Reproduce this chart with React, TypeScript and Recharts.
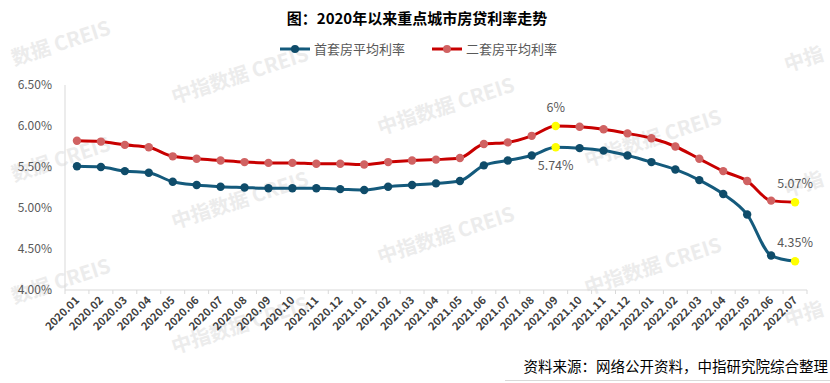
import React from 'react';
import { LineChart, Line, XAxis, YAxis, LabelList } from 'recharts';

const MONTHS = [
  '2020.01', '2020.02', '2020.03', '2020.04', '2020.05', '2020.06', '2020.07', '2020.08',
  '2020.09', '2020.10', '2020.11', '2020.12', '2021.01', '2021.02', '2021.03', '2021.04',
  '2021.05', '2021.06', '2021.07', '2021.08', '2021.09', '2021.10', '2021.11', '2021.12',
  '2022.01', '2022.02', '2022.03', '2022.04', '2022.05', '2022.06', '2022.07',
];
// 首套房平均利率
const FIRST = [
  5.51, 5.50, 5.45, 5.43, 5.32, 5.28, 5.26, 5.25, 5.24, 5.24, 5.24, 5.23, 5.22, 5.26, 5.28, 5.30,
  5.33, 5.52, 5.58, 5.64, 5.74, 5.73, 5.70, 5.64, 5.56, 5.47, 5.34, 5.17, 4.92, 4.42, 4.35,
];
// 二套房平均利率
const SECOND = [
  5.82, 5.81, 5.77, 5.74, 5.63, 5.60, 5.58, 5.56, 5.55, 5.55, 5.54, 5.54, 5.53, 5.56, 5.58, 5.59,
  5.61, 5.78, 5.80, 5.88, 6.00, 5.99, 5.96, 5.91, 5.85, 5.75, 5.60, 5.45, 5.33, 5.09, 5.07,
];
const Y_TICKS = [4.0, 4.5, 5.0, 5.5, 6.0, 6.5];
// indices that get a yellow marker and a value label
const FIRST_MARKED = [20, 30];
const SECOND_MARKED = [20, 30];

const data = MONTHS.map((m, i) => ({ month: m, first: FIRST[i], second: SECOND[i] }));

const W = 830;
const H = 383;
const PLOT_LEFT = 65;
const PLOT_RIGHT = 23;
const STEP = (W - PLOT_LEFT - PLOT_RIGHT) / MONTHS.length;

const BLUE = '#145a7c';
const BLUE_DOT = '#0f4c6a';
const RED = '#c80000';
const RED_DOT = '#d06262';
const GREY_TEXT = '#595959';
const AXIS = '#d9d9d9';
const WM = '#ececec';
const FONT = '"Noto Sans CJK SC", "Noto Sans", sans-serif';

const fmtLabel = (v: number) => `${Number(v.toFixed(2))}%`;

const XTick = (props: any) => {
  const { x, y, payload, index } = props;
  const half = STEP / 2;
  return (
    <g>
      <line x1={x - half} x2={x - half} y1={y - 4} y2={y} stroke={AXIS} />
      {index === MONTHS.length - 1 && <line x1={x + half} x2={x + half} y1={y - 4} y2={y} stroke={AXIS} />}
      <text
        transform={`translate(${x + 3},${y + 7}) rotate(-45)`}
        textAnchor="end"
        fontSize={11}
        fontWeight={700}
        fill="#404040"
        fontFamily={FONT}
      >
        {payload.value}
      </text>
    </g>
  );
};

const makeDot = (color: string, marked: number[]) => (props: any) => {
  const { cx, cy, index } = props;
  if (cx == null || cy == null) return <g key={index} />;
  const fill = marked.includes(index) ? '#ffff00' : color;
  return <circle key={index} cx={cx} cy={cy} r={4.2} fill={fill} stroke="none" />;
};

const makeLabel = (marked: number[], below: number[]) => (props: any) => {
  const { x, y, value, index } = props;
  if (!marked.includes(index)) return null;
  const dy = below.includes(index) ? 23 : -14;
  return (
    <text x={x} y={y + dy} textAnchor="middle" fontSize={12.5} fill={GREY_TEXT} fontFamily={FONT}>
      {fmtLabel(value)}
    </text>
  );
};

// light diagonal watermark grid: full ones in the middle, fragments at the edges
const WATERMARKS = [
  [242, 82], [242, 207], [242, 332],
  [448, 113], [448, 242],
  [655, 145], [655, 273],
];
const WM_LEFT = [[112, 34], [112, 150], [112, 272]];
const WM_RIGHT = [[787, 72], [787, 197], [787, 327]];

export default function App() {
  return (
    <div style={{ position: 'relative', width: W, height: H, background: '#fff', fontFamily: FONT, overflow: 'hidden' }}>
      <style>{'body{margin:0}'}</style>
      <svg width={W} height={H} style={{ position: 'absolute', left: 0, top: 0 }}>
        {WATERMARKS.map(([cx, cy], i) => (
          <text key={i} x={cx} y={cy} textAnchor="middle" fontSize={20} fontWeight={700} fill={WM}
            fontFamily={FONT} transform={`rotate(-18 ${cx} ${cy})`}>
            中指数据 CREIS
          </text>
        ))}
        {WM_LEFT.map(([x, y], i) => (
          <text key={`l${i}`} x={x} y={y} textAnchor="end" fontSize={20} fontWeight={700} fill={WM}
            fontFamily={FONT} transform={`rotate(-18 ${x} ${y})`}>
            数据 CREIS
          </text>
        ))}
        {WM_RIGHT.map(([x, y], i) => (
          <text key={`r${i}`} x={x} y={y} textAnchor="start" fontSize={20} fontWeight={700} fill={WM}
            fontFamily={FONT} transform={`rotate(-18 ${x} ${y})`}>
            中指
          </text>
        ))}
      </svg>

      <div style={{ position: 'absolute', left: 0, top: 0 }}>
        <LineChart width={W} height={H} data={data} margin={{ top: 85, right: PLOT_RIGHT, bottom: 0, left: 0 }}>
          <XAxis
            dataKey="month"
            interval={0}
            height={93}
            padding={{ left: STEP / 2, right: STEP / 2 }}
            axisLine={{ stroke: AXIS }}
            tickLine={false}
            tickSize={4}
            tickMargin={0}
            tick={<XTick />}
          />
          <YAxis
            width={PLOT_LEFT}
            domain={[4, 6.5]}
            ticks={Y_TICKS}
            interval={0}
            tickFormatter={(v: number) => `${v.toFixed(2)}%`}
            axisLine={{ stroke: AXIS }}
            tickLine={false}
            tickSize={6}
            tickMargin={7}
            tick={{ fontSize: 12, fill: GREY_TEXT, fontFamily: FONT }}
          />
          <Line
            type="monotone"
            dataKey="first"
            name="首套房平均利率"
            stroke={BLUE}
            strokeWidth={3}
            dot={makeDot(BLUE_DOT, FIRST_MARKED)}
            activeDot={false}
            isAnimationActive={false}
          >
            <LabelList dataKey="first" content={makeLabel(FIRST_MARKED, [20])} />
          </Line>
          <Line
            type="monotone"
            dataKey="second"
            name="二套房平均利率"
            stroke={RED}
            strokeWidth={3}
            dot={makeDot(RED_DOT, SECOND_MARKED)}
            activeDot={false}
            isAnimationActive={false}
          >
            <LabelList dataKey="second" content={makeLabel(SECOND_MARKED, [])} />
          </Line>
        </LineChart>
      </div>

      {/* title */}
      <div style={{ position: 'absolute', left: 0, top: 7, width: W, textAlign: 'center', paddingLeft: 4, boxSizing: 'border-box', fontSize: 15, fontWeight: 700, color: '#000' }}>
        图：2020年以来重点城市房贷利率走势
      </div>

      {/* legend */}
      <svg width={W} height={20} style={{ position: 'absolute', left: 0, top: 39 }}>
        <line x1={280} x2={310} y1={10} y2={10} stroke={BLUE} strokeWidth={3} />
        <circle cx={295} cy={10} r={4} fill={BLUE_DOT} />
        <text x={314} y={14.5} fontSize={13} fill={GREY_TEXT} fontFamily={FONT}>首套房平均利率</text>
        <line x1={432} x2={462} y1={10} y2={10} stroke={RED} strokeWidth={3} />
        <circle cx={447} cy={10} r={4} fill={RED_DOT} />
        <text x={466} y={14.5} fontSize={13} fill={GREY_TEXT} fontFamily={FONT}>二套房平均利率</text>
      </svg>

      {/* source */}
      <div style={{ position: 'absolute', right: 2, top: 355, fontSize: 14.5, color: '#000', whiteSpace: 'nowrap' }}>
        资料来源：网络公开资料，中指研究院综合整理
      </div>
      <div style={{ position: 'absolute', left: 505, right: 0, top: 380, height: 1, background: '#d9d9d9' }} />
    </div>
  );
}
